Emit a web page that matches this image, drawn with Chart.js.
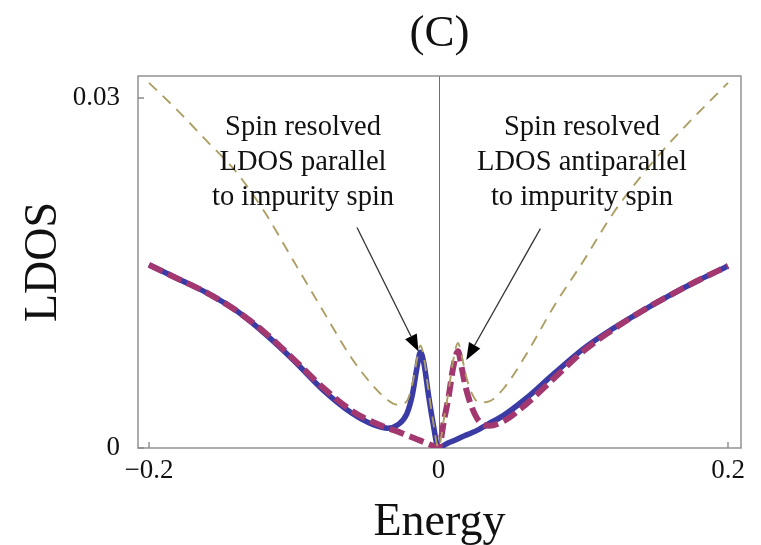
<!DOCTYPE html>
<html>
<head>
<meta charset="utf-8">
<title>LDOS</title>
<script src="https://cdn.jsdelivr.net/npm/chart.js@4.4.1/dist/chart.umd.min.js"></script>
<style>
  html, body { margin: 0; padding: 0; background: #fff; }
  #wrap { width: 761px; height: 545px; position: relative; }
</style>
</head>
<body>
<div id="wrap"><canvas id="ldosChart"></canvas></div>
<script>
// Energy grid (denser around the resonance peaks)
const energy = [
  -0.2, -0.18, -0.16, -0.14, -0.12, -0.1, -0.08, -0.06, -0.045, -0.035,
  -0.028, -0.022, -0.018, -0.015, -0.0125, -0.01, -0.007, -0.004, 0,
  0.004, 0.007, 0.01, 0.0135, 0.016, 0.019, 0.023, 0.028, 0.035, 0.045,
  0.06, 0.08, 0.1, 0.12, 0.14, 0.16, 0.18, 0.2
];

// LDOS parallel to impurity spin (solid)
const ldosParallel = [
  0.0157, 0.0145, 0.0133, 0.0118, 0.0098, 0.0075, 0.0050, 0.0030, 0.0020, 0.0017,
  0.0020, 0.0029, 0.0046, 0.0068, 0.0082, 0.0072, 0.0046, 0.0023, 0,
  0.00025, 0.00045, 0.0006, 0.0008, 0.00095, 0.0011, 0.0013, 0.0016, 0.0021, 0.0028,
  0.0042, 0.0064, 0.0085, 0.0102, 0.0117, 0.0131, 0.0144, 0.0156
];

// LDOS antiparallel to impurity spin (thick dashed)
const ldosAntiparallel = [
  0.0157, 0.0145, 0.0133, 0.0118, 0.0099, 0.0076, 0.0052, 0.0032, 0.0022, 0.0017,
  0.0014, 0.0011, 0.0009, 0.00075, 0.00063, 0.0005, 0.00035, 0.0002, 0,
  0.0025, 0.0044, 0.0068, 0.0083, 0.0069, 0.0051, 0.0035, 0.0023, 0.0019, 0.0023,
  0.0037, 0.0060, 0.0083, 0.0101, 0.0117, 0.0131, 0.0144, 0.0156
];

// total LDOS (thin dashed)
const ldosTotal = [
  0.0313, 0.0289, 0.0263, 0.0237, 0.0202, 0.0160, 0.0118, 0.0077, 0.0053, 0.0041,
  0.0037, 0.0040, 0.0055, 0.0075, 0.0088, 0.0077, 0.0050, 0.0025, 0,
  0.0027, 0.0049, 0.0074, 0.0090, 0.0079, 0.0062, 0.0047, 0.0039, 0.0040, 0.0051,
  0.0079, 0.0122, 0.0160, 0.0200, 0.0233, 0.0262, 0.0288, 0.0313
];

const xTicks = [-0.2, 0, 0.2];
const xTickLabels = ['\u22120.2', '0', '0.2'];
const yTicks = [0, 0.03];
const yTickLabels = ['0', '0.03'];

const SERIF = "'Liberation Serif', 'DejaVu Serif', serif";

const toPoints = (ys) => energy.map((e, i) => ({ x: e, y: ys[i] }));

// callout boxes, anchored in data units (text centre x, first baseline y)
const callouts = [
  { x: -0.0936, y: 0.02683, lines: ['Spin resolved', 'LDOS parallel', 'to impurity spin'],
    from: [-0.0563, 0.0189], to: [-0.0138, 0.00827] },
  { x: 0.0991, y: 0.02683, lines: ['Spin resolved', 'LDOS antiparallel', 'to impurity spin'],
    from: [0.0704, 0.0188], to: [0.0192, 0.00754] }
];

// frame, zero axis and inward ticks under the curves
const framePlugin = {
  id: 'framePlugin',
  beforeDatasetsDraw(chart) {
    const { ctx, chartArea: a, scales: { x, y } } = chart;
    ctx.save();
    ctx.strokeStyle = '#6e6e6e';
    ctx.lineWidth = 1;
    const x0 = Math.round(x.getPixelForValue(0)) + 0.5;
    ctx.beginPath();
    ctx.moveTo(x0, a.top);
    ctx.lineTo(x0, a.bottom);
    ctx.stroke();

    ctx.strokeStyle = '#8a8a8a';
    ctx.lineWidth = 1.4;
    ctx.beginPath();
    xTicks.forEach((v) => {
      const px = x.getPixelForValue(v);
      ctx.moveTo(px, a.bottom);
      ctx.lineTo(px, a.bottom - 6);
    });
    yTicks.forEach((v) => {
      const py = y.getPixelForValue(v);
      ctx.moveTo(a.left, py);
      ctx.lineTo(a.left + 6, py);
    });
    ctx.stroke();
    ctx.strokeRect(a.left, a.top, a.right - a.left, a.bottom - a.top);
    ctx.restore();
  }
};

// title, axis labels and arrow callouts
const textPlugin = {
  id: 'textPlugin',
  afterDraw(chart) {
    const { ctx, chartArea: a, scales: { x, y } } = chart;
    const cx = (a.left + a.right) / 2;
    ctx.save();
    ctx.fillStyle = '#111';
    ctx.textAlign = 'center';
    ctx.textBaseline = 'alphabetic';

    ctx.font = '45px ' + SERIF;
    ctx.fillText('(C)', cx, 46);

    ctx.font = '46px ' + SERIF;
    ctx.fillText('Energy', cx, 535);

    ctx.save();
    ctx.translate(56, (a.top + a.bottom) / 2);
    ctx.rotate(-Math.PI / 2);
    ctx.fillText('LDOS', 0, 0);
    ctx.restore();

    ctx.font = '28.5px ' + SERIF;
    callouts.forEach((c) => {
      const tx = x.getPixelForValue(c.x);
      const ty = y.getPixelForValue(c.y);
      c.lines.forEach((s, i) => ctx.fillText(s, tx, ty + i * 35));

      const x1 = x.getPixelForValue(c.from[0]), y1 = y.getPixelForValue(c.from[1]);
      const x2 = x.getPixelForValue(c.to[0]), y2 = y.getPixelForValue(c.to[1]);
      const ang = Math.atan2(y2 - y1, x2 - x1);
      const head = 17, half = 6.5;
      const bx = x2 - head * Math.cos(ang), by = y2 - head * Math.sin(ang);
      ctx.strokeStyle = '#333';
      ctx.lineWidth = 1.3;
      ctx.beginPath();
      ctx.moveTo(x1, y1);
      ctx.lineTo(bx, by);
      ctx.stroke();
      ctx.fillStyle = '#000';
      ctx.beginPath();
      ctx.moveTo(x2, y2);
      ctx.lineTo(bx + half * Math.sin(ang), by - half * Math.cos(ang));
      ctx.lineTo(bx - half * Math.sin(ang), by + half * Math.cos(ang));
      ctx.closePath();
      ctx.fill();
      ctx.fillStyle = '#111';
    });
    ctx.restore();
  }
};

new Chart(document.getElementById('ldosChart'), {
  type: 'line',
  data: {
    datasets: [
      {
        label: 'total',
        data: toPoints(ldosTotal),
        borderColor: '#ad9f63',
        borderWidth: 1.9,
        borderDash: [11, 8],
        order: 0
      },
      {
        label: 'antiparallel',
        data: toPoints(ldosAntiparallel),
        borderColor: '#a2386f',
        borderWidth: 6,
        borderDash: [15, 6],
        order: 1
      },
      {
        label: 'parallel',
        data: toPoints(ldosParallel),
        borderColor: '#3b3ba6',
        borderWidth: 5.5,
        order: 2
      }
    ]
  },
  options: {
    responsive: true,
    maintainAspectRatio: false,
    animation: false,
    events: [],
    layout: { padding: { left: 0, right: 20, top: 76, bottom: 0 } },
    elements: {
      point: { radius: 0 },
      line: { cubicInterpolationMode: 'monotone', fill: false }
    },
    scales: {
      x: {
        type: 'linear',
        min: -0.2076,
        max: 0.20898,
        grid: { display: false },
        border: { display: false },
        afterFit: (s) => { s.height = 97; },
        afterBuildTicks: (s) => { s.ticks = xTicks.map((v) => ({ value: v })); },
        ticks: {
          padding: -1,
          color: '#111',
          font: { family: SERIF, size: 27 },
          callback: (v, i) => xTickLabels[i]
        }
      },
      y: {
        type: 'linear',
        min: 0,
        max: 0.031886,
        grid: { display: false },
        border: { display: false },
        afterFit: (s) => { s.width = 138; },
        afterBuildTicks: (s) => { s.ticks = yTicks.map((v) => ({ value: v })); },
        ticks: {
          padding: 10,
          color: '#111',
          font: { family: SERIF, size: 27 },
          callback: (v, i) => yTickLabels[i]
        }
      }
    },
    plugins: {
      legend: { display: false },
      tooltip: { enabled: false }
    }
  },
  plugins: [framePlugin, textPlugin]
});
</script>
</body>
</html>
